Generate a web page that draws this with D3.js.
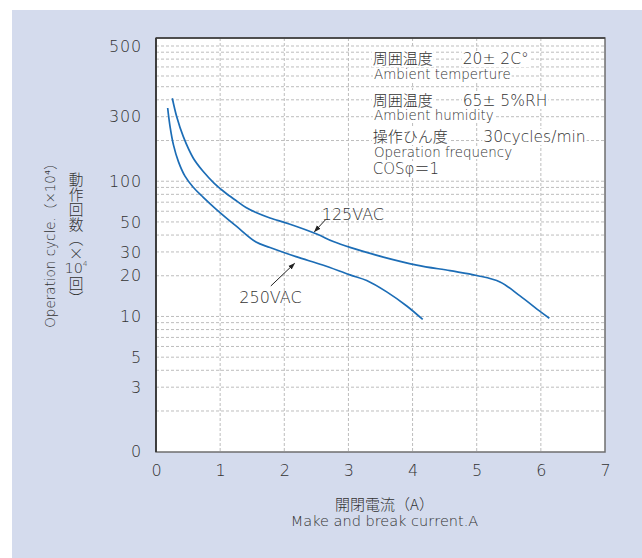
<!DOCTYPE html>
<html>
<head>
<meta charset="utf-8">
<script src="https://cdn.jsdelivr.net/npm/d3@7"></script>
<style>
  html, body { margin: 0; padding: 0; background: #ffffff; }
  svg { display: block; }
  text { fill: #333; }
</style>
</head>
<body>
<svg id="chart" width="642" height="558"></svg>
<script>
// ---------------- data ----------------
const xTicks = [0, 1, 2, 3, 4, 5, 6, 7];
// tick positions on the log grid and the labels printed on them
const yTickValues = [1, 3, 5, 10, 20, 30, 50, 100, 300, 1000];
const yTickLabels = ["0", "3", "5", "10", "20", "30", "50", "100", "300", "500"];

const current125 = [0.254, 0.323, 0.426, 0.582, 0.737, 0.904, 1.076, 1.247, 1.403, 1.559, 1.777, 2.078, 2.505, 2.764, 3.025, 3.544, 4.065, 4.584, 5.0, 5.363, 5.675, 5.987, 6.132];
const cycles125  = [411, 300, 213.5, 148, 118, 97, 82.5, 72.0, 63.9, 58.7, 53.5, 48.3, 40.7, 35.8, 32.4, 27.5, 24.0, 21.8, 20.1, 18.0, 14.2, 10.9, 9.7];

const current250 = [0.182, 0.218, 0.273, 0.351, 0.452, 0.577, 0.733, 0.935, 1.247, 1.559, 1.777, 2.183, 2.599, 3.025, 3.285, 3.597, 3.909, 4.158];
const cycles250  = [348, 256, 185, 139, 109, 90.7, 76.4, 62.3, 46.7, 35.5, 32.4, 27.7, 24.0, 20.3, 18.45, 15.2, 11.95, 9.5];

const seriesNames = ["125VAC", "250VAC"];

const conditionsJa = ["周囲温度", "周囲温度", "操作ひん度"];
const conditionsVal = ["20± 2C°", "65± 5%RH", "30cycles/min"];
const conditionsEn = ["Ambient temperture", "Ambient humidity", "Operation frequency"];
const powerFactor = "COSφ＝1";

const xTitleJa = "開閉電流（A）";
const xTitleEn = "Make and break current.A";
const yTitleEn = "Operation cycle.（×10⁴）";
const yTitleJaTop = "動作回数（×";
const yTitleJaNum = "10";
const yTitleJaExp = "4";
const yTitleJaBottom = "回）";

// ---------------- layout ----------------
const W = 642, H = 558;
const panel = { x: 12, y: 10 };
const plot = { left: 156, right: 605, top: 38, bottom: 452 };
const latin = "'DejaVu Sans', 'Noto Sans CJK JP', sans-serif";
const cjk = "'Noto Sans CJK JP', 'DejaVu Sans', sans-serif";
const lineColor = "#1c6db6";
const latinWeight = 300;
const cjkWeight = 300;

const svg = d3.select("#chart");

svg.append("rect").attr("x", panel.x).attr("y", panel.y)
  .attr("width", W - panel.x).attr("height", H - panel.y)
  .attr("fill", "#d4dbed");

svg.append("rect").attr("x", plot.left).attr("y", plot.top)
  .attr("width", plot.right - plot.left).attr("height", plot.bottom - plot.top)
  .attr("fill", "#ffffff");

const x = d3.scaleLinear().domain([0, 7]).range([plot.left, plot.right]);
const y = d3.scaleLog().domain([1, 1000]).range([451.7, 46]);

// grid
const minorY = [];
[1, 10, 100].forEach(d => { for (let k = 1; k <= 9; k++) { if (d * k > 1) minorY.push(d * k); } });
minorY.push(1000);

const grid = svg.append("g").attr("stroke", "#bdbdbd").attr("stroke-width", 1)
  .attr("stroke-dasharray", "3,2").attr("fill", "none");
grid.selectAll("line.h").data(minorY).join("line").attr("class", "h")
  .attr("x1", plot.left).attr("x2", plot.right)
  .attr("y1", d => y(d)).attr("y2", d => y(d));
grid.selectAll("line.v").data(xTicks.filter(d => d > 0 && d < 7)).join("line").attr("class", "v")
  .attr("x1", d => x(d)).attr("x2", d => x(d))
  .attr("y1", plot.top).attr("y2", plot.bottom);

// curves
const line = d3.line().x(d => x(d[0])).y(d => y(d[1])).curve(d3.curveCatmullRom.alpha(0.5));
const s125 = current125.map((c, i) => [c, cycles125[i]]);
const s250 = current250.map((c, i) => [c, cycles250[i]]);
svg.append("g").selectAll("path").data([s125, s250]).join("path")
  .attr("d", line).attr("fill", "none").attr("stroke", lineColor).attr("stroke-width", 1.7)
  .attr("stroke-linejoin", "round");

// frame
svg.append("rect").attr("x", plot.left).attr("y", plot.top)
  .attr("width", plot.right - plot.left).attr("height", plot.bottom - plot.top)
  .attr("fill", "none").attr("stroke", "#6e6e6e").attr("stroke-width", 1.5);
svg.append("line").attr("x1", plot.left).attr("x2", plot.left)
  .attr("y1", plot.top).attr("y2", plot.bottom).attr("stroke", "#2a2a2a").attr("stroke-width", 1.6);
svg.append("line").attr("x1", plot.left).attr("x2", plot.right)
  .attr("y1", plot.top).attr("y2", plot.top).attr("stroke", "#3a3a3a").attr("stroke-width", 1.4);

// axes
const yAxis = d3.axisLeft(y).tickValues(yTickValues)
  .tickFormat((d, i) => yTickLabels[i]).tickSize(0).tickPadding(14);
const gy = svg.append("g").attr("transform", `translate(${plot.left},0)`).call(yAxis);
gy.select(".domain").remove();
gy.selectAll("text").attr("font-family", latin).attr("font-weight", latinWeight).attr("font-size", 16)
  .attr("letter-spacing", 0.8).attr("fill", "#333");

const xAxis = d3.axisBottom(x).tickValues(xTicks).tickFormat(d3.format("d")).tickSize(0).tickPadding(13);
const gx = svg.append("g").attr("transform", `translate(0,${plot.bottom})`).call(xAxis);
gx.select(".domain").remove();
gx.selectAll("text").attr("font-family", latin).attr("font-weight", latinWeight).attr("font-size", 16).attr("fill", "#333");

// helper: put white rect behind a text
function backdrop(sel) {
  sel.each(function () {
    const b = this.getBBox();
    d3.select(this.parentNode).insert("rect", () => this)
      .attr("x", b.x - 1).attr("y", b.y + 1).attr("width", b.width + 2).attr("height", b.height - 2)
      .attr("fill", "#ffffff");
  });
}

// conditions block
const cond = svg.append("g");
const jaBase = [64, 106, 142];
const enBase = [79, 120, 157];
const valX = [462.7, 462.7, 483.3];
conditionsJa.forEach((t, i) => {
  const gl = cond.append("g");
  const tj = gl.append("text").attr("x", 372.7).attr("y", jaBase[i]).attr("font-family", cjk)
    .attr("font-weight", cjkWeight).attr("font-size", 15).text(t);
  const tv = gl.append("text").attr("x", valX[i]).attr("y", jaBase[i]).attr("font-family", latin)
    .attr("font-weight", latinWeight).attr("font-size", 15.5).text(conditionsVal[i]);
  backdrop(tj); backdrop(tv);
  const ge = cond.append("g");
  const te = ge.append("text").attr("x", 374).attr("y", enBase[i]).attr("font-family", latin)
    .attr("font-weight", latinWeight).attr("font-size", 13.4).text(conditionsEn[i]);
  backdrop(te);
});
const gp = cond.append("g");
backdrop(gp.append("text").attr("x", 372.7).attr("y", 174).attr("font-family", latin)
  .attr("font-weight", latinWeight).attr("font-size", 15).text(powerFactor));

// series labels and arrows
svg.append("defs").append("marker").attr("id", "ah").attr("viewBox", "0 0 10 10")
  .attr("refX", 9).attr("refY", 5).attr("markerWidth", 7).attr("markerHeight", 7)
  .attr("orient", "auto").append("path").attr("d", "M0,1.5 L10,5 L0,8.5 Z").attr("fill", "#222");

const arrows = [
  { from: [2.64, 51.7], to: [2.47, 42.4] },
  { from: [1.79, 16.8], to: [2.16, 24.7] }
];
svg.append("g").selectAll("line").data(arrows).join("line")
  .attr("x1", d => x(d.from[0])).attr("y1", d => y(d.from[1]))
  .attr("x2", d => x(d.to[0])).attr("y2", d => y(d.to[1]))
  .attr("stroke", "#222").attr("stroke-width", 1).attr("marker-end", "url(#ah)");

const labelPos = [[2.584, 51.3], [1.299, 12.5]];
const gl = svg.append("g");
seriesNames.forEach((n, i) => {
  gl.append("text").attr("x", x(labelPos[i][0])).attr("y", y(labelPos[i][1]))
    .attr("font-family", latin).attr("font-weight", latinWeight).attr("font-size", 16).text(n);
});

// x titles
const cx = (plot.left + plot.right) / 2 + 4;
svg.append("text").attr("x", cx).attr("y", 510).attr("text-anchor", "middle")
  .attr("font-family", cjk).attr("font-weight", cjkWeight).attr("font-size", 15).text(xTitleJa);
svg.append("text").attr("x", cx).attr("y", 526).attr("text-anchor", "middle")
  .attr("font-family", latin).attr("font-weight", latinWeight).attr("font-size", 14.5).text(xTitleEn);

// y titles
svg.append("text").attr("transform", "translate(55,242) rotate(-90)").attr("text-anchor", "middle")
  .attr("font-family", latin).attr("font-weight", latinWeight).attr("font-size", 13.5).text(yTitleEn);

const jaSize = 14.7;
svg.append("text").attr("x", 76).attr("y", 172.5)
  .style("writing-mode", "vertical-rl")
  .attr("font-family", cjk).attr("font-weight", cjkWeight).attr("font-size", jaSize).text(yTitleJaTop);
const tnum = svg.append("text").attr("x", 76).attr("y", 273).attr("text-anchor", "middle")
  .attr("font-family", latin).attr("font-weight", latinWeight).attr("font-size", 14.5);
tnum.append("tspan").text(yTitleJaNum);
tnum.append("tspan").attr("font-size", 7).attr("dy", -7).text(yTitleJaExp);
svg.append("text").attr("x", 76).attr("y", 276)
  .style("writing-mode", "vertical-rl")
  .attr("font-family", cjk).attr("font-weight", cjkWeight).attr("font-size", jaSize).text(yTitleJaBottom);
</script>
</body>
</html>
